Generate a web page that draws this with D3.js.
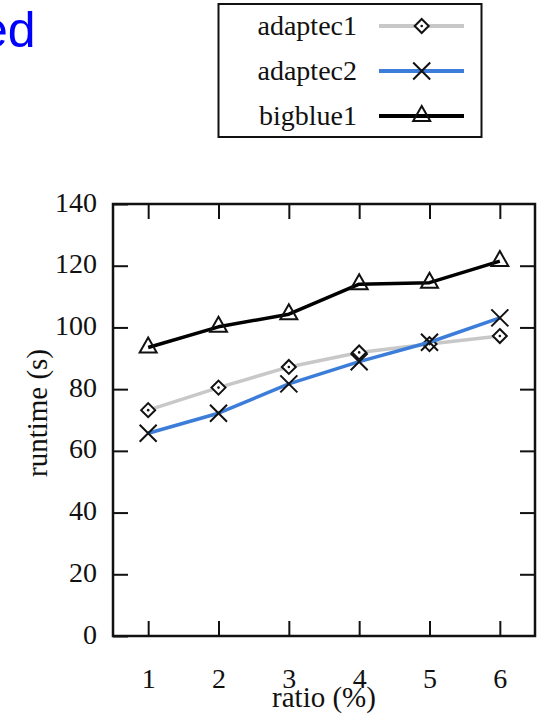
<!DOCTYPE html>
<html>
<head>
<meta charset="utf-8">
<script src="https://cdn.jsdelivr.net/npm/d3@7"></script>
<style>
  body { margin: 0; background: #fff; }
  svg { display: block; }
  .axis text { font-family: "Liberation Serif", serif; font-size: 28px; fill: #111; }
  .axis line { stroke: #111; stroke-width: 2; }
  .axis path { stroke: none; }
</style>
</head>
<body>
<script>
// data
var ratios = [1, 2, 3, 4, 5, 6];
var adaptec1 = [73.2, 80.5, 87.2, 91.9, 94.6, 97.2];
var adaptec2 = [65.7, 72.2, 81.7, 88.9, 95.2, 103.1];
var bigblue1 = [93.5, 100.2, 104.3, 114.0, 114.5, 121.5];
var yTicks = [0, 20, 40, 60, 80, 100, 120, 140];
var seriesNames = ["adaptec1", "adaptec2", "bigblue1"];

var width = 540, height = 718;
var plot = { left: 113, right: 535, top: 204, bottom: 636 };

var svg = d3.select("body").append("svg")
    .attr("width", width)
    .attr("height", height);

svg.append("rect").attr("width", width).attr("height", height).attr("fill", "#fff");

// clipped heading text at top-left
svg.append("text")
    .attr("x", 35.5)
    .attr("y", 47)
    .attr("text-anchor", "end")
    .style("font-family", "'Liberation Sans', Arial, sans-serif")
    .style("font-size", "50px")
    .attr("fill", "#0000ff")
    .text("ed");

var x = d3.scaleLinear().domain([0.5, 6.5]).range([plot.left, plot.right]);
var y = d3.scaleLinear().domain([0, 140]).range([plot.bottom, plot.top]);

// axes with inward ticks
svg.append("g").attr("class", "axis")
    .attr("transform", "translate(" + plot.left + ",0)")
    .call(d3.axisLeft(y).tickValues(yTicks).tickSize(-15).tickSizeOuter(0).tickPadding(16))
    .selectAll("text").attr("dy", "0.25em");

svg.append("g").attr("class", "axis")
    .attr("transform", "translate(" + plot.right + ",0)")
    .call(d3.axisRight(y).tickValues(yTicks.slice(1, -1)).tickSize(-15).tickSizeOuter(0).tickFormat(""));

svg.append("g").attr("class", "axis")
    .attr("transform", "translate(0," + plot.bottom + ")")
    .call(d3.axisBottom(x).tickValues(ratios).tickSize(-15).tickSizeOuter(0).tickPadding(32).tickFormat(d3.format("d")));

svg.append("g").attr("class", "axis")
    .attr("transform", "translate(0," + plot.top + ")")
    .call(d3.axisTop(x).tickValues(ratios).tickSize(-15).tickSizeOuter(0).tickFormat(""));

// frame
svg.append("rect")
    .attr("x", plot.left).attr("y", plot.top)
    .attr("width", plot.right - plot.left)
    .attr("height", plot.bottom - plot.top)
    .attr("fill", "none")
    .attr("stroke", "#111")
    .attr("stroke-width", 2.5);

// axis titles
svg.append("text")
    .attr("transform", "translate(37," + 413 + ") rotate(-90)")
    .attr("text-anchor", "middle")
    .attr("dy", "0.35em")
    .style("font-family", "'Liberation Serif', serif")
    .style("font-size", "29px")
    .attr("fill", "#111")
    .text("runtime (s)");

svg.append("text")
    .attr("x", 324)
    .attr("y", 707)
    .attr("text-anchor", "middle")
    .style("font-family", "'Liberation Serif', serif")
    .style("font-size", "29px")
    .attr("fill", "#111")
    .text("ratio (%)");

// marker drawing
function drawMarker(g, kind, cx, cy) {
    if (kind == "diamond") {
        g.append("path")
            .attr("d", "M" + cx + "," + (cy - 7) + "L" + (cx + 7) + "," + cy + "L" + cx + "," + (cy + 7) + "L" + (cx - 7) + "," + cy + "Z")
            .attr("fill", "#fff").attr("stroke", "#111").attr("stroke-width", 2);
        g.append("circle").attr("cx", cx).attr("cy", cy).attr("r", 1.3).attr("fill", "#111");
    } else if (kind == "cross") {
        g.append("path")
            .attr("d", "M" + (cx - 8.5) + "," + (cy - 8.5) + "L" + (cx + 8.5) + "," + (cy + 8.5) +
                "M" + (cx - 8.5) + "," + (cy + 8.5) + "L" + (cx + 8.5) + "," + (cy - 8.5))
            .attr("stroke", "#111").attr("stroke-width", 2).attr("fill", "none");
    } else {
        g.append("path")
            .attr("d", "M" + cx + "," + (cy - 10) + "L" + (cx + 8.5) + "," + (cy + 5) + "L" + (cx - 8.5) + "," + (cy + 5) + "Z")
            .attr("fill", "none").attr("stroke", "#111").attr("stroke-width", 2);
    }
}

var series = [
    { name: seriesNames[0], values: adaptec1, color: "#c8c8c8", marker: "diamond" },
    { name: seriesNames[1], values: adaptec2, color: "#3b7dd8", marker: "cross" },
    { name: seriesNames[2], values: bigblue1, color: "#000", marker: "triangle" }
];

var line = d3.line()
    .x(function(d, i) { return x(ratios[i]); })
    .y(function(d) { return y(d); });

var lines = svg.append("g");
series.forEach(function(s) {
    lines.append("path")
        .datum(s.values)
        .attr("d", line)
        .attr("fill", "none")
        .attr("stroke", s.color)
        .attr("stroke-width", 3.5)
        .attr("stroke-linejoin", "round");
    s.values.forEach(function(v, i) {
        drawMarker(lines, s.marker, x(ratios[i]), y(v));
    });
});

// legend
var legend = svg.append("g");
legend.append("rect")
    .attr("x", 218.5).attr("y", 4)
    .attr("width", 263).attr("height", 133)
    .attr("fill", "#fff")
    .attr("stroke", "#111")
    .attr("stroke-width", 2);

series.forEach(function(s, i) {
    var ly = 26 + i * 45;
    legend.append("text")
        .attr("x", 357)
        .attr("y", ly + 9)
        .attr("text-anchor", "end")
        .style("font-family", "'Liberation Serif', serif")
        .style("font-size", "28px")
        .attr("fill", "#111")
        .text(s.name);
    legend.append("line")
        .attr("x1", 379).attr("x2", 464)
        .attr("y1", ly).attr("y2", ly)
        .attr("stroke", s.color)
        .attr("stroke-width", 4);
    drawMarker(legend, s.marker, 421.7, ly);
});
</script>
</body>
</html>
